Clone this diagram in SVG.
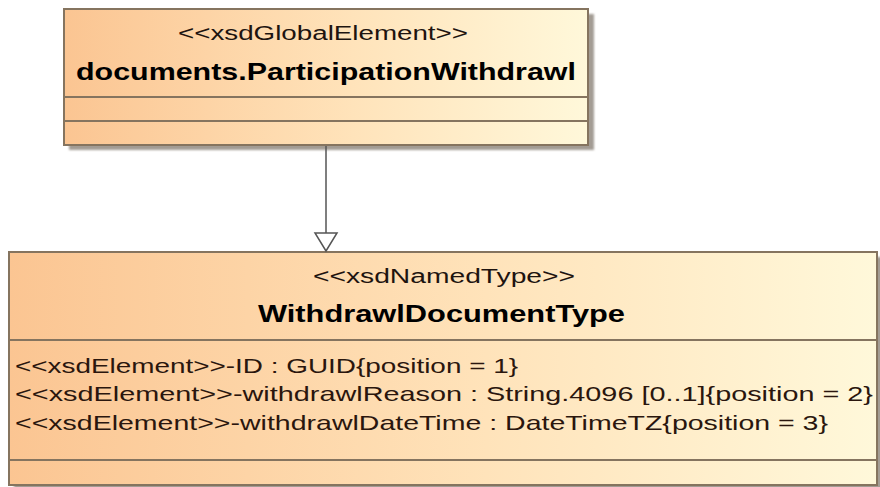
<svg xmlns="http://www.w3.org/2000/svg" width="880" height="487" viewBox="0 0 880 487">
  <defs>
    <linearGradient id="fillGrad" x1="0" y1="0" x2="1" y2="0">
      <stop offset="0" stop-color="#FBC592"/>
      <stop offset="0.55" stop-color="#FFE3BA"/>
      <stop offset="1" stop-color="#FFF8DA"/>
    </linearGradient>
    <filter id="blur" x="-5%" y="-5%" width="110%" height="110%">
      <feGaussianBlur stdDeviation="1.2"/>
    </filter>
  </defs>
  <style>
    .shadow { fill: #A39C94; filter: url(#blur); }
    .box { fill: url(#fillGrad); stroke: #85745F; stroke-width: 2; }
    .div { stroke: #85745F; stroke-width: 2; fill: none; }
    .stereo { font-family: "Liberation Sans", Arial, sans-serif; font-size: 20px; fill: #1E1410; }
    .title { font-family: "Liberation Sans", Arial, sans-serif; font-size: 24px; font-weight: bold; fill: #000000; }
    .attr { font-family: "Liberation Sans", Arial, sans-serif; font-size: 21px; fill: #2A160E; }
    .edge { stroke: #555555; stroke-width: 1.5; fill: none; }
    .head { fill: #FFFFFF; stroke: #555555; stroke-width: 1.5; }
  </style>
  <rect width="880" height="487" fill="#FFFFFF"/>

  <g id="documents.ParticipationWithdrawl">
    <rect class="shadow" x="69" y="14" width="525" height="136"/>
    <rect class="box" x="64" y="9" width="524" height="136"/>
    <line class="div" x1="64" y1="97" x2="588" y2="97"/>
    <line class="div" x1="64" y1="121" x2="588" y2="121"/>
    <text class="stereo" x="178" y="40" textLength="290" lengthAdjust="spacingAndGlyphs">&lt;&lt;xsdGlobalElement&gt;&gt;</text>
    <text class="title" x="76" y="80" textLength="500" lengthAdjust="spacingAndGlyphs">documents.ParticipationWithdrawl</text>
  </g>

  <g id="WithdrawlDocumentType">
    <rect class="shadow" x="14" y="257" width="870" height="234"/>
    <rect class="box" x="9" y="252" width="868" height="233"/>
    <line class="div" x1="9" y1="340" x2="877" y2="340"/>
    <line class="div" x1="9" y1="460" x2="877" y2="460"/>
    <text class="stereo" x="313" y="283" textLength="262" lengthAdjust="spacingAndGlyphs">&lt;&lt;xsdNamedType&gt;&gt;</text>
    <text class="title" x="258" y="322" textLength="367" lengthAdjust="spacingAndGlyphs">WithdrawlDocumentType</text>
    <text class="attr" x="15" y="373" textLength="503" lengthAdjust="spacingAndGlyphs">&lt;&lt;xsdElement&gt;&gt;-ID : GUID{position = 1}</text>
    <text class="attr" x="15" y="401" textLength="858" lengthAdjust="spacingAndGlyphs">&lt;&lt;xsdElement&gt;&gt;-withdrawlReason : String.4096 [0..1]{position = 2}</text>
    <text class="attr" x="15" y="430" textLength="813" lengthAdjust="spacingAndGlyphs">&lt;&lt;xsdElement&gt;&gt;-withdrawlDateTime : DateTimeTZ{position = 3}</text>
  </g>

  <g id="connectors">
    <line class="edge" x1="326" y1="146" x2="326" y2="233"/>
    <polygon class="head" points="315,233 337,233 326,251"/>
  </g>
</svg>
